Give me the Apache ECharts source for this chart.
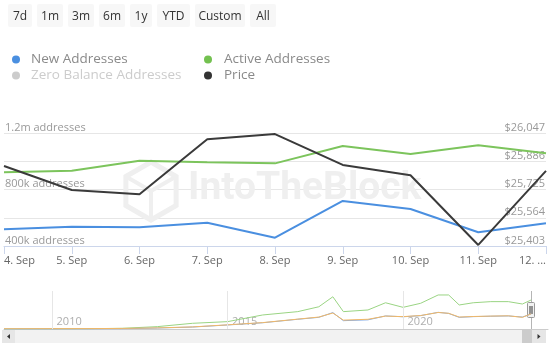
<!DOCTYPE html>
<html><head><meta charset="utf-8">
<script src="https://cdn.jsdelivr.net/npm/echarts@6/dist/echarts.min.js"></script>
<style>html,body{margin:0;padding:0;background:#fff}#c{width:557px;height:359px}</style>
</head><body><div id="c"></div>
<script>
// ---- data ----
const categories = ['4. Sep','5. Sep','6. Sep','7. Sep','8. Sep','9. Sep','10. Sep','11. Sep','12. Sep'];
const newAddresses = [518000, 537000, 532000, 565000, 459000, 719000, 662000, 497000, 561000];
const activeAddresses = [922000, 933000, 1004000, 993000, 985000, 1108000, 1051000, 1113000, 1056000];
const zeroBalanceAddresses = [];
const price = [25859, 25722, 25698, 26011, 26041, 25865, 25806, 25409, 25831];
const leftTicks = [400000, 800000, 1200000];
const leftTickLabels = ['400k addresses', '800k addresses', '1.2m addresses'];
const priceTicks = [25403, 25564, 25725, 25886, 26047];
const priceTickLabels = ['$25,403', '$25,564', '$25,725', '$25,886', '$26,047'];
// navigator (full history, thousands)
const navYears =  [2008.63, 2011, 2012, 2013, 2014, 2015, 2016, 2017, 2017.6, 2018.0, 2018.3, 2019, 2019.5, 2020, 2020.5, 2021, 2021.3, 2021.6, 2022, 2022.5, 2023, 2023.4, 2023.65];
const navActive = [0, 10, 25, 85, 205, 265, 505, 625, 800, 1160, 625, 685, 945, 780, 925, 1225, 1225, 865, 945, 985, 985, 900, 1045];
const navNew =    [0, 5, 10, 35, 70, 145, 225, 350, 420, 590, 300, 330, 470, 440, 480, 600, 560, 420, 445, 460, 470, 430, 540];
const navOther =  [10, 15, 20, 40, 75, 150, 230, 355, 430, 575, 320, 350, 465, 445, 485, 595, 565, 430, 450, 465, 475, 420, 545];
const navYearTicks = [2010, 2015, 2020];
const rangeButtons = ['7d', '1m', '3m', '6m', '1y', 'YTD', 'Custom', 'All'];

// ---- layout / style ----
const FONT = "'Open Sans', 'DejaVu Sans', sans-serif";
const btnWidths = [24, 26, 26, 26, 22, 33, 50, 26];
const graphics = [];
let bx = 8;
rangeButtons.forEach((b, i) => {
  const w = btnWidths[i];
  graphics.push({type: 'rect', shape: {x: bx, y: 4, width: w, height: 23, r: 2}, style: {fill: '#f7f7f7'}, silent: true});
  graphics.push({type: 'text', style: {x: bx + w / 2, y: 16.5, text: b, fill: '#333', font: '12px ' + FONT, align: 'center', verticalAlign: 'middle'}, silent: true});
  bx += w + 5;
});
// watermark
const cx = 151, cy = 191, R = 29;
const hex = [];
for (let k = 0; k < 6; k++) { const a = Math.PI / 2 + k * Math.PI / 3; hex.push([cx + R * Math.cos(a), cy - R * Math.sin(a)]); }
graphics.push({type: 'polygon', shape: {points: hex}, style: {fill: 'none', stroke: '#efefef', lineWidth: 5}, z: 1, silent: true});
[hex[3], hex[1], hex[5]].forEach(p => {
  graphics.push({type: 'line', shape: {x1: cx, y1: cy, x2: p[0], y2: p[1]}, style: {stroke: '#efefef', lineWidth: 4}, z: 1, silent: true});
});
graphics.push({type: 'text', style: {x: 188, y: 189, text: 'IntoTheBlock', font: 'bold 39px Roboto', fill: '#efefef', verticalAlign: 'middle'}, z: 1, silent: true});
// navigator outline + handle
graphics.push({type: 'line', shape: {x1: 531.5, y1: 291, x2: 531.5, y2: 329}, style: {stroke: '#b5b5b5', lineWidth: 1}, silent: true});
graphics.push({type: 'rect', shape: {x: 527.5, y: 302.5, width: 7, height: 15, r: 1}, style: {fill: '#f2f2f2', stroke: '#999', lineWidth: 1}, silent: true});
graphics.push({type: 'line', shape: {x1: 530, y1: 306, x2: 530, y2: 314}, style: {stroke: '#333', lineWidth: 1}, silent: true});
graphics.push({type: 'line', shape: {x1: 532, y1: 306, x2: 532, y2: 314}, style: {stroke: '#333', lineWidth: 1}, silent: true});
// scrollbar
graphics.push({type: 'rect', shape: {x: 2, y: 330, width: 544, height: 13}, style: {fill: '#f2f2f2'}, silent: true});
graphics.push({type: 'rect', shape: {x: 2, y: 330, width: 13, height: 13}, style: {fill: '#e6e6e6'}, silent: true});
graphics.push({type: 'rect', shape: {x: 522, y: 330, width: 10, height: 13}, style: {fill: '#cccccc'}, silent: true});
graphics.push({type: 'rect', shape: {x: 532, y: 330, width: 14, height: 13}, style: {fill: '#e6e6e6'}, silent: true});
graphics.push({type: 'polygon', shape: {points: [[10, 334], [10, 339], [7, 336.5]]}, style: {fill: '#333'}, silent: true});
graphics.push({type: 'polygon', shape: {points: [[537.5, 334], [537.5, 339], [540.5, 336.5]]}, style: {fill: '#333'}, silent: true});

const legendCommon = {
  orient: 'vertical', icon: 'circle', itemWidth: 8, itemHeight: 8, itemGap: 1, padding: 0,
  inactiveColor: '#cccccc', selectedMode: true
};

const option = {
  animation: false,
  backgroundColor: '#fff',
  textStyle: {fontFamily: FONT},
  legend: [
    Object.assign({}, legendCommon, {left: 12, top: 52, data: ['New Addresses', 'Zero Balance Addresses'],
      selected: {'Zero Balance Addresses': false},
      textStyle: {color: '#8a8a8a', fontSize: 13.5, fontFamily: FONT, lineHeight: 15, padding: [0, 0, 0, 6]}}),
    Object.assign({}, legendCommon, {left: 204, top: 52, data: ['Active Addresses', 'Price'],
      textStyle: {color: '#8a8a8a', fontSize: 13.5, fontFamily: FONT, lineHeight: 15, padding: [0, 0, 0, 7]}})
  ],
  grid: [
    {left: 4, right: 11, top: 133, height: 113},
    {left: 4, top: 291, width: 544, height: 38}
  ],
  xAxis: [
    {type: 'category', gridIndex: 0, data: categories, boundaryGap: false,
     axisLine: {lineStyle: {color: '#ccd6eb'}},
     axisTick: {show: true, length: 8, lineStyle: {color: '#ccd6eb'}, interval: 0},
     axisLabel: {color: '#666', fontSize: 11, margin: 9, interval: 0, alignMinLabel: 'left', alignMaxLabel: 'right',
       formatter: (v, i) => i === categories.length - 1 ? v.slice(0, 4) + '...' : v},
     splitLine: {show: false}},
    {type: 'value', gridIndex: 1, min: 2008.63, max: 2024.13, position: 'top',
     axisLine: {show: true, lineStyle: {color: '#cccccc'}}, axisTick: {show: false}, axisLabel: {show: false}, splitLine: {show: false}}
  ],
  yAxis: [
    {type: 'value', gridIndex: 0, position: 'left', min: leftTicks[0], max: leftTicks[leftTicks.length - 1],
     interval: leftTicks[1] - leftTicks[0],
     axisLine: {show: false}, axisTick: {show: false}, splitLine: {show: false},
     axisLabel: {inside: true, margin: 1, verticalAlign: 'bottom', color: '#999', fontSize: 11,
       formatter: v => leftTickLabels[leftTicks.indexOf(v)] || ''}},
    {type: 'value', gridIndex: 0, position: 'right', min: 0, max: priceTicks.length - 1, interval: 1,
     axisLine: {show: false}, axisTick: {show: false},
     splitLine: {show: true, lineStyle: {color: '#e6e6e6'}},
     axisLabel: {inside: true, margin: 1, verticalAlign: 'bottom', color: '#999', fontSize: 11,
       formatter: v => priceTickLabels[v]}},
    {type: 'value', gridIndex: 0, position: 'right', min: priceTicks[0], max: priceTicks[priceTicks.length - 1], show: false},
    {type: 'value', gridIndex: 1, min: 0, max: 1368, show: false}
  ],
  graphic: {elements: graphics},
  series: [
    {name: 'New Addresses', type: 'line', xAxisIndex: 0, yAxisIndex: 0, data: newAddresses, showSymbol: false,
     color: '#4a8fe0', lineStyle: {width: 2, color: '#4a8fe0'}, z: 3},
    {name: 'Active Addresses', type: 'line', xAxisIndex: 0, yAxisIndex: 0, data: activeAddresses, showSymbol: false,
     color: '#73c150', lineStyle: {width: 2, color: '#7cc45c'}, z: 3},
    {name: 'Zero Balance Addresses', type: 'line', xAxisIndex: 0, yAxisIndex: 0, data: zeroBalanceAddresses, showSymbol: false,
     color: '#cccccc'},
    {name: 'Price', type: 'line', xAxisIndex: 0, yAxisIndex: 2, data: price, showSymbol: false,
     color: '#333333', lineStyle: {width: 2, color: '#3a3a3a'}, z: 4},
    {type: 'line', xAxisIndex: 1, yAxisIndex: 3, data: navYears.map((y, i) => [y, navActive[i]]), showSymbol: false,
     lineStyle: {width: 1, color: '#9ad483'}, silent: true},
    {type: 'line', xAxisIndex: 1, yAxisIndex: 3, data: navYears.map((y, i) => [y, navNew[i]]), showSymbol: false,
     lineStyle: {width: 1, color: '#7fa9e6'}, silent: true},
    {type: 'line', xAxisIndex: 1, yAxisIndex: 3, data: navYears.map((y, i) => [y, navOther[i]]), showSymbol: false,
     lineStyle: {width: 1, color: '#f2b866'}, silent: true},
    {type: 'scatter', xAxisIndex: 1, yAxisIndex: 3, data: navYearTicks.map(y => [y, 0]), symbolSize: 1,
     itemStyle: {color: 'rgba(0,0,0,0)'}, silent: true, z: 1,
     label: {show: true, position: 'right', distance: 4, offset: [0, -7], color: '#999', fontSize: 11,
       formatter: p => String(p.value[0])},
     markLine: {silent: true, symbol: 'none', label: {show: false},
       lineStyle: {color: '#e6e6e6', type: 'solid', width: 1},
       data: navYearTicks.map(y => ({xAxis: y}))}}
  ]
};
const chart = echarts.init(document.getElementById('c'));
chart.setOption(option);
</script></body></html>
